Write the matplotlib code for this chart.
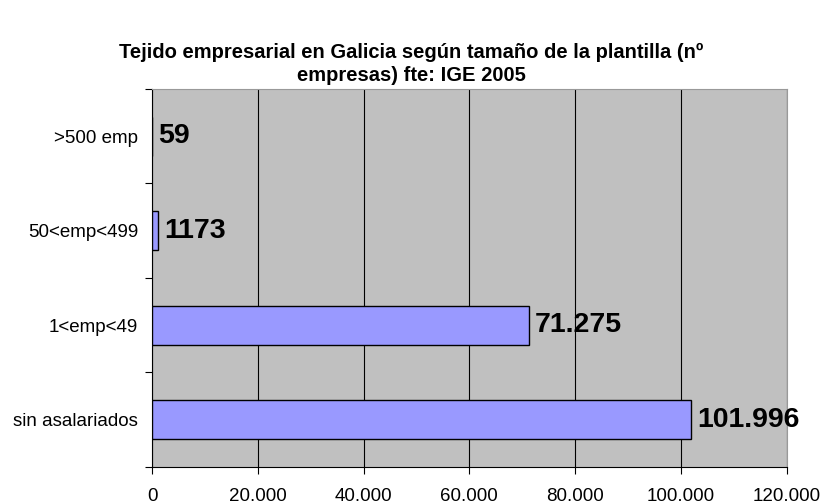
import matplotlib
matplotlib.use("Agg")
import matplotlib.pyplot as plt
from matplotlib.ticker import FuncFormatter

plt.rcParams['font.family'] = ['Liberation Sans', 'DejaVu Sans']

categories = ["sin asalariados", "1<emp<49", "50<emp<499", ">500 emp"]
values = [101996, 71275, 1173, 59]
value_labels = ["101.996", "71.275", "1173", "59"]
x_ticks = [0, 20000, 40000, 60000, 80000, 100000, 120000]
title = "Tejido empresarial en Galicia según tamaño de la plantilla (nº\nempresas) fte: IGE 2005"

fig = plt.figure(figsize=(8.22, 5.03), dpi=100)
ax = fig.add_axes([0.185, 0.0716, 0.772, 0.7515])
ax.set_facecolor("#C0C0C0")

ypos = list(range(len(categories)))
ax.barh(ypos, values, height=0.41, color="#9999FF", edgecolor="black", linewidth=1.0, zorder=3)
for y, v, lab in zip(ypos, values, value_labels):
    ax.annotate(lab, (v, y), xytext=(4, 0), textcoords="offset points",
                va="center", ha="left", fontsize=20.5, fontweight="bold", zorder=4)

ax.set_xlim(0, 120000)
ax.set_ylim(-0.5, len(categories) - 0.5)
ax.set_xticks(x_ticks)
ax.xaxis.set_major_formatter(FuncFormatter(lambda v, p: f"{int(v):,}".replace(",", ".")))
ax.set_yticks(ypos)
ax.set_yticklabels(categories)
ax.set_yticks([-0.5 + i for i in range(len(categories) + 1)], minor=True)
ax.tick_params(axis="y", which="major", length=0, pad=10, labelsize=13.5)
ax.tick_params(axis="y", which="minor", length=5, width=0.8, direction="out")
ax.tick_params(axis="x", which="major", length=5, width=0.8, direction="out", pad=10, labelsize=13.5)
ax.grid(axis="x", color="black", linewidth=0.8, zorder=1)
ax.set_axisbelow(True)
for s in ["top", "right"]:
    ax.spines[s].set_color("#999999")
    ax.spines[s].set_linewidth(0.8)
for s in ["left", "bottom"]:
    ax.spines[s].set_color("black")
    ax.spines[s].set_linewidth(0.8)

fig.text(0.5, 0.873, title, ha="center", va="center", fontsize=14.5, fontweight="bold", linespacing=1.3)

fig.savefig("out.png", dpi=100)
